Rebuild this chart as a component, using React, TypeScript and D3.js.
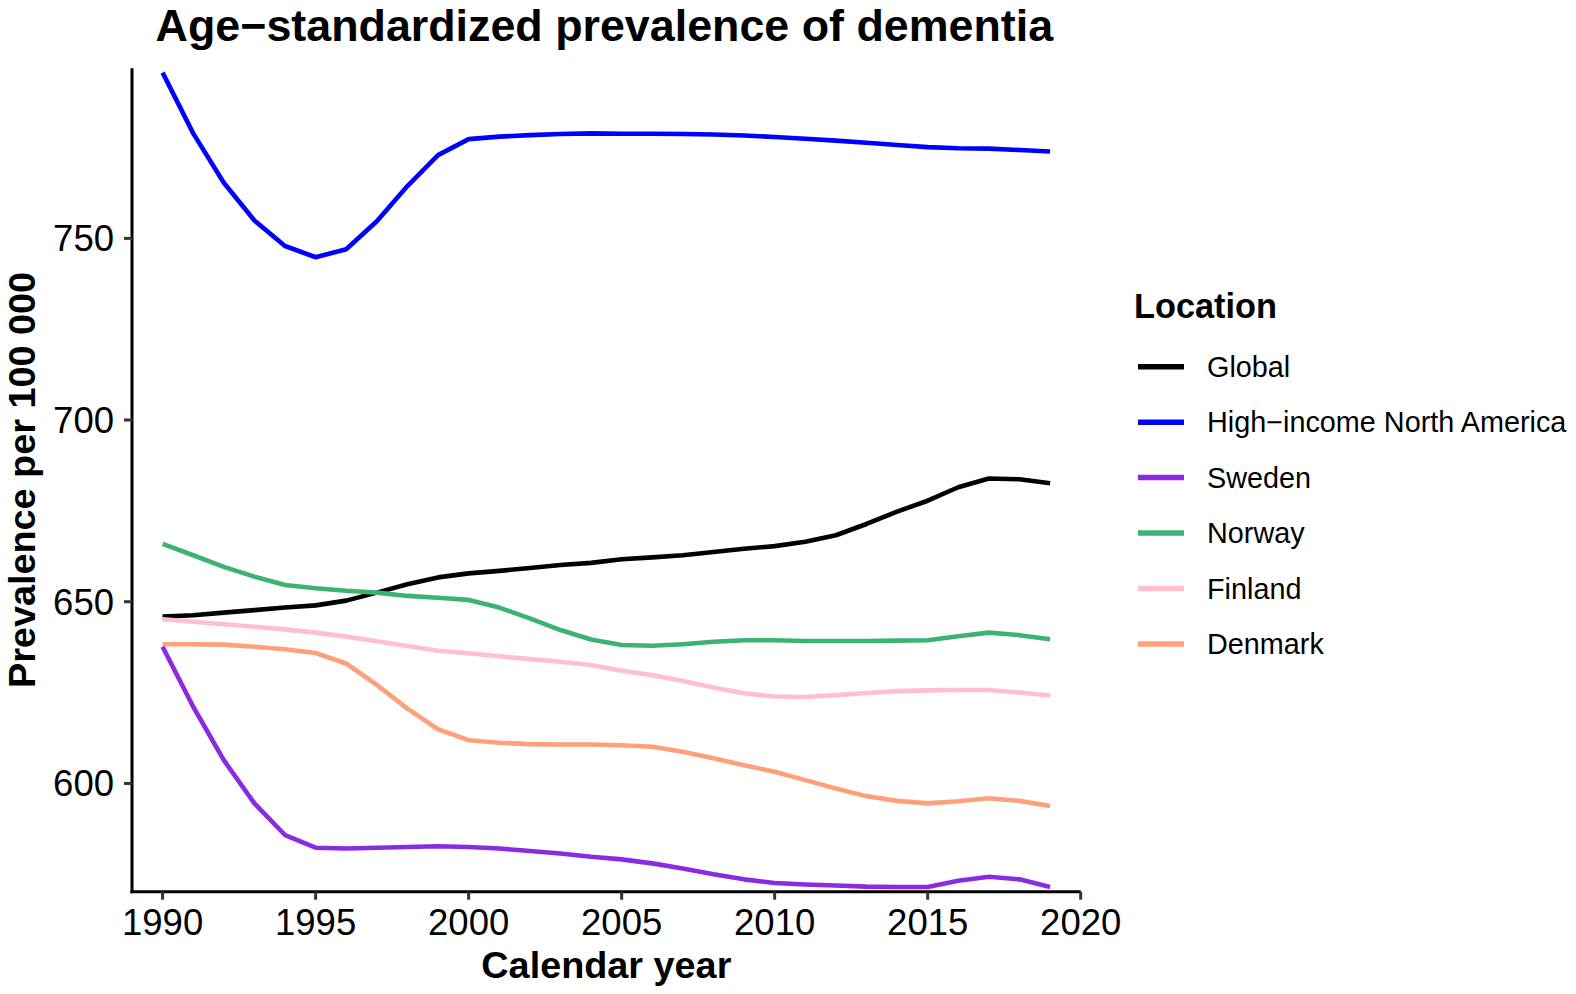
import React from "react";
import * as d3 from "d3";

const years = [
  1990, 1991, 1992, 1993, 1994, 1995, 1996, 1997, 1998, 1999,
  2000, 2001, 2002, 2003, 2004, 2005, 2006, 2007, 2008, 2009,
  2010, 2011, 2012, 2013, 2014, 2015, 2016, 2017, 2018, 2019,
];

const globalVals = [
  645.9, 646.3, 647.0, 647.7, 648.4, 649.0, 650.3, 652.5, 654.8, 656.7,
  657.8, 658.5, 659.3, 660.1, 660.7, 661.7, 662.2, 662.8, 663.7, 664.6,
  665.3, 666.5, 668.3, 671.4, 674.8, 677.8, 681.5, 683.9, 683.7, 682.6,
];
const hinaVals = [
  795.6, 778.9, 765.3, 754.9, 747.9, 744.8, 747.0, 754.7, 764.4, 772.9,
  777.3, 778.0, 778.4, 778.7, 778.9, 778.8, 778.8, 778.7, 778.6, 778.3,
  777.9, 777.4, 776.9, 776.3, 775.7, 775.1, 774.8, 774.7, 774.3, 773.9,
];
const swedenVals = [
  637.6, 621.1, 606.4, 594.5, 585.8, 582.3, 582.1, 582.3, 582.5, 582.7,
  582.5, 582.1, 581.4, 580.7, 579.8, 579.1, 578.0, 576.6, 575.0, 573.6,
  572.6, 572.2, 571.9, 571.6, 571.5, 571.5, 573.2, 574.3, 573.6, 571.5,
];
const norwayVals = [
  665.9, 662.8, 659.6, 656.9, 654.6, 653.7, 653.0, 652.5, 651.6, 651.1,
  650.5, 648.4, 645.4, 642.2, 639.6, 638.1, 637.9, 638.3, 639.0, 639.4,
  639.4, 639.2, 639.2, 639.2, 639.3, 639.4, 640.5, 641.5, 640.8, 639.7,
];
const finlandVals = [
  645.2, 644.5, 643.8, 643.1, 642.4, 641.5, 640.4, 639.1, 637.8, 636.5,
  635.8, 635.0, 634.2, 633.5, 632.6, 631.0, 629.8, 628.2, 626.4, 624.8,
  623.9, 623.8, 624.3, 624.9, 625.4, 625.6, 625.7, 625.7, 625.0, 624.2,
];
const denmarkVals = [
  638.3, 638.3, 638.2, 637.6, 636.9, 635.9, 633.0, 627.1, 620.6, 614.9,
  611.9, 611.2, 610.8, 610.7, 610.7, 610.5, 610.1, 608.7, 606.9, 605.0,
  603.2, 600.9, 598.6, 596.5, 595.2, 594.5, 595.1, 595.9, 595.2, 593.8,
];

const seriesNames = [
  "Global",
  "High\u2212income North America",
  "Sweden",
  "Norway",
  "Finland",
  "Denmark",
];
const seriesColors = ["#000000", "#0000FF", "#8A2BE2", "#3CB371", "#FFC0CB", "#FFA07A"];
const seriesValues = [globalVals, hinaVals, swedenVals, norwayVals, finlandVals, denmarkVals];

const xTicks = [1990, 1995, 2000, 2005, 2010, 2015, 2020];
const yTicks = [600, 650, 700, 750];

const W = 1576;
const H = 994;
const panel = { left: 132, right: 1080.7, top: 68.3, bottom: 891.7 };
const FONT = "'Liberation Sans', Arial, Helvetica, sans-serif";

export default function App() {
  const x = d3.scaleLinear().domain([1989, 2020]).range([panel.left, panel.right]);
  const y = d3.scaleLinear().domain([570.2, 796.8]).range([panel.bottom, panel.top]);

  const line = d3
    .line<[number, number]>()
    .x((d) => x(d[0]))
    .y((d) => y(d[1]));

  const drawOrder = [1, 0, 3, 4, 5, 2];

  return (
    <svg
      width={W}
      height={H}
      style={{ position: "absolute", left: 0, top: 0, background: "#fff" }}
      fontFamily={FONT}
    >
      <rect x={0} y={0} width={W} height={H} fill="#fff" />
      <defs>
        <clipPath id="panelClip">
          <rect
            x={panel.left}
            y={panel.top - 3}
            width={panel.right - panel.left}
            height={panel.bottom - panel.top + 3}
          />
        </clipPath>
      </defs>

      {/* Title */}
      <text
        x={(panel.left + panel.right) / 2 - 2}
        y={41}
        textAnchor="middle"
        fontSize={44.8}
        fontWeight="bold"
        fill="#000"
      >
        Age{"\u2212"}standardized prevalence of dementia
      </text>

      {/* Lines */}
      <g clipPath="url(#panelClip)">
        {drawOrder.map((i) => (
          <path
            key={seriesNames[i]}
            d={line(years.map((yr, k) => [yr, seriesValues[i][k]] as [number, number])) || ""}
            fill="none"
            stroke={seriesColors[i]}
            strokeWidth={4.6}
            strokeLinejoin="round"
          />
        ))}
      </g>

      {/* Axes lines */}
      <line x1={panel.left} x2={panel.left} y1={panel.top} y2={panel.bottom + 1.5} stroke="#000" strokeWidth={3} />
      <line x1={panel.left - 1.5} x2={panel.right} y1={panel.bottom} y2={panel.bottom} stroke="#000" strokeWidth={3} />

      {/* X ticks */}
      {xTicks.map((t) => (
        <g key={t}>
          <line x1={x(t)} x2={x(t)} y1={panel.bottom} y2={panel.bottom + 8} stroke="#333" strokeWidth={3} />
          <text x={x(t)} y={935} textAnchor="middle" fontSize={36.5} fill="#000">
            {t}
          </text>
        </g>
      ))}

      {/* Y ticks */}
      {yTicks.map((t) => (
        <g key={t}>
          <line x1={panel.left - 8} x2={panel.left} y1={y(t)} y2={y(t)} stroke="#333" strokeWidth={3} />
          <text x={114} y={y(t) + 13} textAnchor="end" fontSize={36.5} fill="#000">
            {t}
          </text>
        </g>
      ))}

      {/* Axis titles */}
      <text
        x={(panel.left + panel.right) / 2}
        y={978}
        textAnchor="middle"
        fontSize={37.8}
        fontWeight="bold"
        fill="#000"
      >
        Calendar year
      </text>
      <text
        transform={`translate(35, ${(panel.top + panel.bottom) / 2}) rotate(-90)`}
        textAnchor="middle"
        fontSize={37.8}
        fontWeight="bold"
        fill="#000"
      >
        Prevalence per 100 000
      </text>

      {/* Legend */}
      <text x={1134} y={318.3} fontSize={34.3} fontWeight="bold" fill="#000">
        Location
      </text>
      {seriesNames.map((name, i) => {
        const cy = 366.7 + i * 55.45;
        return (
          <g key={name}>
            <line x1={1138} x2={1184} y1={cy} y2={cy} stroke={seriesColors[i]} strokeWidth={5.5} />
            <text x={1207} y={cy + 10} fontSize={28.8} fill="#000">
              {name}
            </text>
          </g>
        );
      })}
    </svg>
  );
}
